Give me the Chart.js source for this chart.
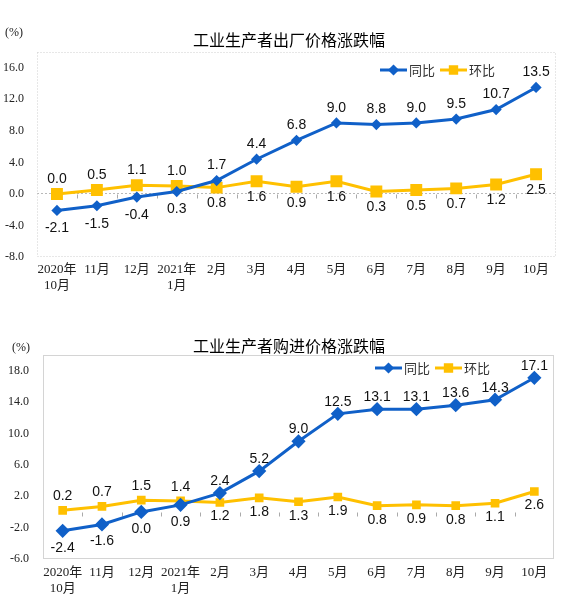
<!doctype html>
<html lang="zh">
  <head>
    <meta charset="UTF-8" />
    <title>工业生产者价格涨跌幅</title>
    <style>
      body { margin: 0; background: #fff; }
      canvas { display: block; }
    </style>
  </head>

  <body>
    <canvas id="ppi" width="578" height="305"></canvas>
    <canvas id="ppirm" width="578" height="305"></canvas>

    <script src="https://cdn.jsdelivr.net/npm/chart.js@4"></script>

    <script>
      // months, shared by both charts
      const months = [
        ['2020年', '10月'], '11月', '12月', ['2021年', '1月'], '2月', '3月',
        '4月', '5月', '6月', '7月', '8月', '9月', '10月',
      ]

      // 出厂价格
      const ppiYoy = [-2.1, -1.5, -0.4, 0.3, 1.7, 4.4, 6.8, 9.0, 8.8, 9.0, 9.5, 10.7, 13.5]
      const ppiMom = [0.0, 0.5, 1.1, 1.0, 0.8, 1.6, 0.9, 1.6, 0.3, 0.5, 0.7, 1.2, 2.5]
      const ppiTicks = [-8, -4, 0, 4, 8, 12, 16]

      // 购进价格
      const rmYoy = [-2.4, -1.6, 0.0, 0.9, 2.4, 5.2, 9.0, 12.5, 13.1, 13.1, 13.6, 14.3, 17.1]
      const rmMom = [0.2, 0.7, 1.5, 1.4, 1.2, 1.8, 1.3, 1.9, 0.8, 0.9, 0.8, 1.1, 2.6]
      const rmTicks = [-6, -2, 2, 6, 10, 14, 18]

      const BLUE = '#1060c8'
      const YELLOW = '#ffc000'
      const CJK = '"Noto Sans CJK SC", sans-serif'
      const SERIF = '"Liberation Serif", "Noto Sans CJK SC", serif'

      const decor = {
        id: 'decor',
        beforeDatasetsDraw(chart, args, o) {
          const { ctx, chartArea: a, scales: { x, y } } = chart
          ctx.save()
          ctx.lineWidth = 1
          ctx.strokeStyle = o.frame
          ctx.setLineDash(o.dash)
          ctx.strokeRect(a.left + 0.5, a.top + 0.5, a.width - 1, a.height - 1)
          // little ticks on the zero line
          ctx.setLineDash([])
          ctx.strokeStyle = '#aaa'
          const y0 = Math.round(y.getPixelForValue(0)) + 0.5
          ctx.beginPath()
          for (let i = 1; i < months.length; i++) {
            const xp = Math.round((x.getPixelForValue(i - 1) + x.getPixelForValue(i)) / 2) + 0.5
            ctx.moveTo(xp, y0)
            ctx.lineTo(xp, y0 + 4)
          }
          ctx.stroke()
          ctx.restore()
        },
        afterDatasetsDraw(chart, args, o) {
          const { ctx, chartArea: a } = chart
          ctx.save()
          // value labels: 同比 below for the first four months, 环比 the other way round
          ctx.font = '14px "Liberation Sans", Arial, sans-serif'
          ctx.fillStyle = '#111'
          ctx.textAlign = 'center'
          ctx.textBaseline = 'middle'
          chart.data.datasets.forEach((ds, di) => {
            chart.getDatasetMeta(di).data.forEach((pt, i) => {
              const below = di === 0 ? i < 4 : i >= 4
              const dy = below ? o.down[di] : -o.up[di]
              ctx.fillText(ds.data[i].toFixed(1), pt.x, pt.y + dy)
            })
          })

          // title
          ctx.font = '16px ' + CJK
          ctx.fillStyle = '#000'
          ctx.fillText(o.title, chart.width / 2, o.titleY)

          // (%)
          ctx.font = '12px ' + SERIF
          ctx.fillStyle = '#222'
          ctx.textAlign = 'left'
          ctx.fillText('(%)', o.unitX, o.unitY)

          // legend
          const ly = a.top + o.legendDy
          const items = [
            { text: '同比', color: BLUE, style: 'rectRot', r: 3.5, x: a.right - o.legendDx },
            { text: '环比', color: YELLOW, style: 'rect', r: 4.5, x: a.right - o.legendDx + 60 },
          ]
          items.forEach((it) => {
            ctx.strokeStyle = it.color
            ctx.fillStyle = it.color
            ctx.lineWidth = 3
            ctx.beginPath()
            ctx.moveTo(it.x, ly)
            ctx.lineTo(it.x + 27, ly)
            ctx.stroke()
            Chart.helpers.drawPoint(ctx, { pointStyle: it.style, radius: it.r, borderWidth: 1 }, it.x + 13.5, ly)
            ctx.fillStyle = '#333'
            ctx.font = '13px ' + CJK
            ctx.fillText(it.text, it.x + 29, ly)
          })
          ctx.restore()
        },
      }

      function makeChart(id, yoy, mom, ticks, s) {
        new Chart(document.getElementById(id), {
          type: 'line',
          data: {
            labels: months,
            datasets: [
              {
                label: '同比',
                data: yoy,
                borderColor: BLUE,
                backgroundColor: BLUE,
                borderWidth: 3,
                pointStyle: 'rectRot',
                pointRadius: s.diamond,
                tension: 0,
              },
              {
                label: '环比',
                data: mom,
                borderColor: YELLOW,
                backgroundColor: YELLOW,
                borderWidth: 3,
                pointStyle: 'rect',
                pointRadius: s.square,
                tension: 0,
              },
            ],
          },
          options: {
            responsive: false,
            animation: false,
            layout: { padding: { top: s.top, right: s.right, left: 0, bottom: 0 } },
            plugins: {
              legend: { display: false },
              tooltip: { enabled: false },
              decor: s.decor,
            },
            scales: {
              x: {
                offset: true,
                grid: { display: false, drawTicks: false },
                border: { display: false },
                ticks: {
                  padding: s.xPad,
                  maxRotation: 0,
                  autoSkip: false,
                  color: '#222',
                  font: { family: SERIF, size: 13, lineHeight: 1.25 },
                },
                afterFit: (sc) => { sc.height = s.xHeight },
              },
              y: {
                min: s.min,
                max: s.max,
                border: { display: false, dash: s.decor.zeroDash },
                grid: {
                  drawTicks: false,
                  color: (c) => (c.tick && c.tick.value === 0 ? '#b8b8b8' : 'rgba(0,0,0,0)'),
                },
                ticks: {
                  padding: s.yPad,
                  color: '#222',
                  font: { family: SERIF, size: 12 },
                  callback: (v) => v.toFixed(1),
                },
                afterBuildTicks: (sc) => { sc.ticks = ticks.map((v) => ({ value: v })) },
                afterFit: (sc) => { sc.width = s.yWidth },
              },
            },
          },
          plugins: [decor],
        })
      }

      makeChart('ppi', ppiYoy, ppiMom, ppiTicks, {
        min: -8, max: 18, top: 52, right: 22, xHeight: 48, xPad: 4, yWidth: 37, yPad: 13,
        diamond: 3.5, square: 6.3,
        decor: {
          title: '工业生产者出厂价格涨跌幅', titleY: 40, unitX: 5, unitY: 33,
          frame: '#cfcfcf', dash: [1, 2], zeroDash: [2, 2],
          legendDy: 18, legendDx: 176,
          up: [15, 15], down: [18, 16],
        },
      })

      makeChart('ppirm', rmYoy, rmMom, rmTicks, {
        min: -6, max: 20, top: 50, right: 24, xHeight: 51, xPad: 5, yWidth: 43, yPad: 14,
        diamond: 5, square: 4,
        decor: {
          title: '工业生产者购进价格涨跌幅', titleY: 41, unitX: 12, unitY: 43,
          frame: '#d4d4d4', dash: [], zeroDash: [],
          legendDy: 13, legendDx: 179,
          up: [12, 14], down: [17, 14],
        },
      })
    </script>
  </body>
</html>
